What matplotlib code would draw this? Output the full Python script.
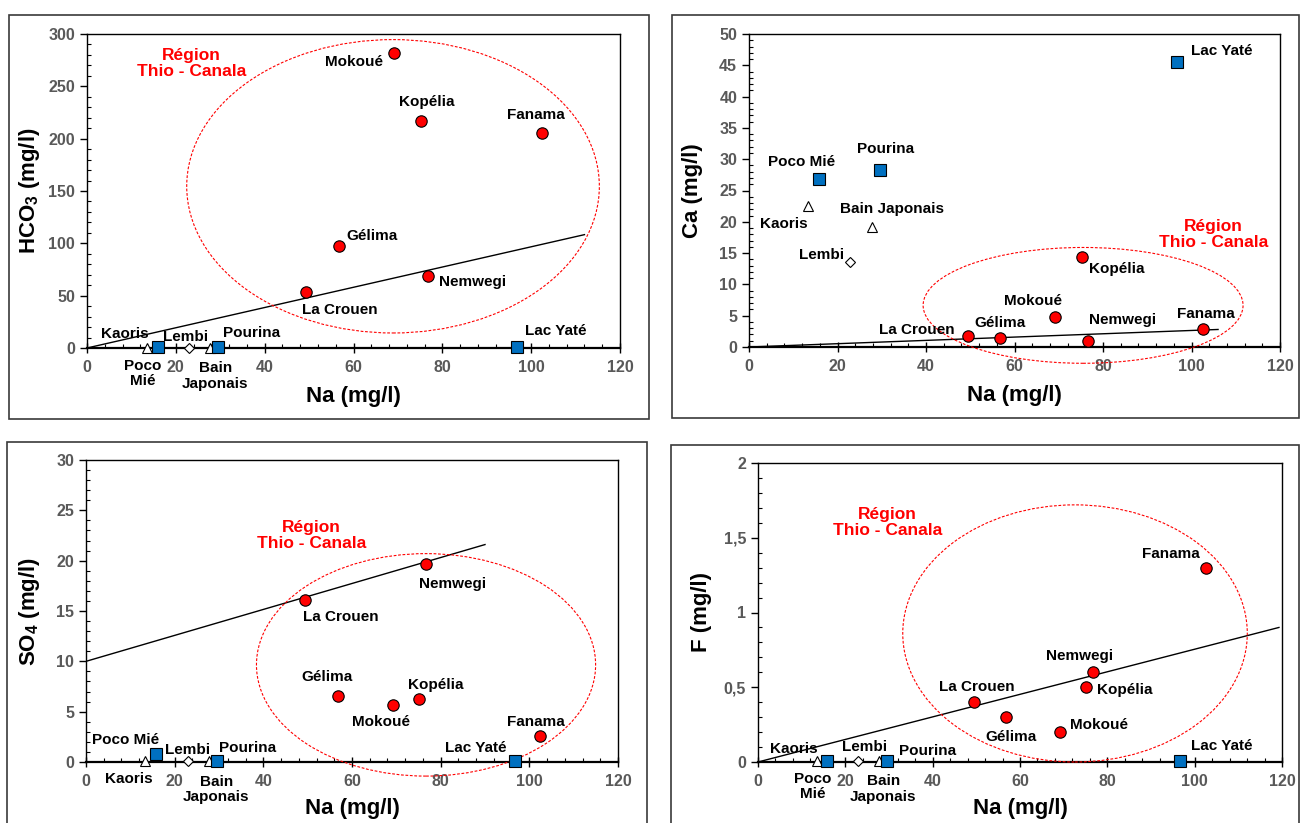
import matplotlib
matplotlib.use("Agg")
import matplotlib.pyplot as plt
from matplotlib.patches import Ellipse, Rectangle
from matplotlib.ticker import MultipleLocator, FuncFormatter

plt.rcParams['font.family'] = ['Liberation Sans', 'DejaVu Sans']
plt.rcParams['font.weight'] = 'bold'
plt.rcParams['mathtext.fontset'] = 'custom'
plt.rcParams['mathtext.rm'] = 'Liberation Sans:bold'
plt.rcParams['mathtext.bf'] = 'Liberation Sans:bold'


# DATA

sites = ["Kaoris", "Poco Mié", "Lembi", "Bain Japonais", "Pourina", "Lac Yaté",
         "La Crouen", "Gélima", "Mokoué", "Kopélia", "Nemwegi", "Fanama"]
groups = ["tri", "sq", "dia", "tri", "sq", "sq",
          "thio", "thio", "thio", "thio", "thio", "thio"]

na = [13.4, 15.9, 22.9, 27.8, 29.6, 96.7, 49.4, 56.8, 69.2, 75.2, 76.7, 102.5]
hco3 = [0.3, 0.5, 0.3, 0.3, 0.5, 0.5, 53.2, 97.1, 281.8, 216.9, 69.1, 205.4]
ca = [22.6, 26.8, 13.5, 19.2, 28.3, 45.5, 1.8, 1.5, 4.8, 14.3, 1.0, 2.9]
so4 = [0.05, 0.8, 0.05, 0.05, 0.1, 0.05, 16.1, 6.6, 5.7, 6.3, 19.7, 2.55]
fl = [0.005, 0.01, 0.005, 0.005, 0.01, 0.01, 0.40, 0.30, 0.20, 0.50, 0.60, 1.30]

# trend lines (end points)
hco3_line_x = [0, 112]
hco3_line_y = [0, 108.3]
ca_line_x = [0, 106]
ca_line_y = [0, 2.8]
so4_line_x = [0, 90]
so4_line_y = [10.0, 21.6]
f_line_x = [0, 119.3]
f_line_y = [0, 0.90]


# STYLE / LAYOUT

marker_style = {
    "tri": dict(marker='^', ms=7.4, mfc='white', mec='black', mew=0.8),
    "sq": dict(marker='s', ms=8.4, mfc='#0070C0', mec='black', mew=0.8),
    "dia": dict(marker='D', ms=5.2, mfc='white', mec='black', mew=0.8),
    "thio": dict(marker='o', ms=8.2, mfc='#FF0000', mec='black', mew=0.8),
}

# label offsets in pixels (dx, dy) per panel
offsets_hco3 = {
    "Kaoris": (-22, 14), "Poco Mié": (-15, -26), "Lembi": (-3, 11),
    "Bain Japonais": (5, -28), "Pourina": (33, 14), "Lac Yaté": (39, 16),
    "La Crouen": (33, -18), "Gélima": (33, 10), "Mokoué": (-40, -9),
    "Kopélia": (6, 19), "Nemwegi": (45, -6), "Fanama": (-6, 18),
}
offsets_ca = {
    "Kaoris": (-24, -18), "Poco Mié": (-18, 17), "Lembi": (-29, 7),
    "Bain Japonais": (20, 18), "Pourina": (6, 21), "Lac Yaté": (45, 11),
    "La Crouen": (-51, 6), "Gélima": (0, 15), "Mokoué": (-22, 16),
    "Kopélia": (35, -12), "Nemwegi": (34, 21), "Fanama": (3, 15),
}
offsets_so4 = {
    "Kaoris": (-17, -18), "Poco Mié": (-31, 14), "Lembi": (0, 11),
    "Bain Japonais": (7, -28), "Pourina": (30, 13), "Lac Yaté": (-39, 13),
    "La Crouen": (36, -17), "Gélima": (-11, 19), "Mokoué": (-12, -17),
    "Kopélia": (16, 14), "Nemwegi": (27, -20), "Fanama": (-5, 14),
}
offsets_f = {
    "Kaoris": (-23, 12), "Poco Mié": (-15, -26), "Lembi": (7, 14),
    "Bain Japonais": (4, -28), "Pourina": (40, 10), "Lac Yaté": (41, 15),
    "La Crouen": (3, 15), "Gélima": (5, -20), "Mokoué": (39, 7),
    "Kopélia": (38, -3), "Nemwegi": (-13, 16), "Fanama": (-35, 14),
}

two_lines = {"Poco Mié": "Poco\nMié", "Bain Japonais": "Bain\nJaponais"}

panels = [
    dict(y=hco3, ylabel=r"HCO$_{\mathbf{3}}$ (mg/l)", ymax=300, major=50, minor=10,
         line=(hco3_line_x, hco3_line_y), offs=offsets_hco3,
         split=["Poco Mié", "Bain Japonais"],
         ell=(68.9, 154.5, 92.9, 280.3), reg=(23.5, 272),
         pos=[87, 34, 620, 348], frame=[9, 15, 649, 419]),
    dict(y=ca, ylabel="Ca (mg/l)", ymax=50, major=5, minor=1,
         line=(ca_line_x, ca_line_y), offs=offsets_ca, split=[],
         ell=(75.5, 6.65, 72.3, 18.5), reg=(105, 18),
         pos=[749, 34, 1280, 347], frame=[672, 15, 1299, 418]),
    dict(y=so4, ylabel=r"SO$_{\mathbf{4}}$ (mg/l)", ymax=30, major=5, minor=1,
         line=(so4_line_x, so4_line_y), offs=offsets_so4,
         split=["Bain Japonais"],
         ell=(76.7, 9.65, 76.5, 22.1), reg=(50.8, 22.5),
         pos=[86, 460, 618, 762], frame=[7, 442, 647, 830]),
    dict(y=fl, ylabel="F (mg/l)", ymax=2, major=0.5, minor=0.1,
         line=(f_line_x, f_line_y), offs=offsets_f,
         split=["Poco Mié", "Bain Japonais"],
         ell=(72.6, 0.86, 78.9, 1.72), reg=(29.6, 1.6),
         pos=[758, 463, 1282, 762], frame=[671, 445, 1299, 830]),
]

W, H = 1300, 823
fig = plt.figure(figsize=(W / 100, H / 100), dpi=100)

for p in panels:
    # panel frame
    fx0, fy0, fx1, fy1 = p["frame"]
    fig.patches.append(Rectangle((fx0 / W, 1 - fy1 / H), (fx1 - fx0) / W, (fy1 - fy0) / H,
                                 transform=fig.transFigure, fill=False,
                                 edgecolor='#3a3a3a', lw=1.2))
    x0, y0, x1, y1 = p["pos"]
    ax = fig.add_axes([x0 / W, 1 - y1 / H, (x1 - x0) / W, (y1 - y0) / H])

    ax.plot(p["line"][0], p["line"][1], color='black', lw=1.0, zorder=2)

    for i, name in enumerate(sites):
        ax.plot(na[i], p["y"][i], linestyle='none', zorder=4, clip_on=False,
                **marker_style[groups[i]])
        txt = two_lines[name] if name in p["split"] else name
        dx, dy = p["offs"][name]
        ax.annotate(txt, (na[i], p["y"][i]), xytext=(dx, dy), textcoords='offset pixels',
                    ha='center', va='center', fontsize=11, fontweight='bold',
                    linespacing=1.15, annotation_clip=False, zorder=5)

    cx, cy, ew, eh = p["ell"]
    ax.add_patch(Ellipse((cx, cy), ew, eh, fill=False, edgecolor='red', lw=0.8,
                         linestyle=(0, (2.5, 1.5)), clip_on=False, zorder=3))
    ax.text(p["reg"][0], p["reg"][1], "Région\nThio - Canala", color='red',
            fontsize=12.5, fontweight='bold', ha='center', va='center', linespacing=1.1)

    ax.set_xlim(0, 120)
    ax.set_ylim(0, p["ymax"])
    ax.xaxis.set_major_locator(MultipleLocator(20))
    ax.xaxis.set_minor_locator(MultipleLocator(4))
    ax.yaxis.set_major_locator(MultipleLocator(p["major"]))
    ax.yaxis.set_minor_locator(MultipleLocator(p["minor"]))
    if p["ymax"] == 2:
        ax.yaxis.set_major_formatter(FuncFormatter(lambda v, pos: ('%g' % v).replace('.', ',')))

    ax.tick_params(which='major', direction='out', length=5, width=1.0,
                   labelsize=11.5, labelcolor='#595959', color='black')
    ax.tick_params(which='minor', direction='in', length=3, width=0.8, color='black')
    ax.tick_params(axis='x', which='major', direction='inout', length=7, pad=5)
    for lab in ax.get_xticklabels() + ax.get_yticklabels():
        lab.set_fontweight('bold')

    for s in ['top', 'right', 'left']:
        ax.spines[s].set_linewidth(1.0)
    ax.spines['bottom'].set_linewidth(1.6)

    ax.set_xlabel("Na (mg/l)", fontsize=16, fontweight='bold', va='center')
    ax.xaxis.set_label_coords(0.5, -0.155)
    ax.set_ylabel(p["ylabel"], fontsize=16, fontweight='bold', va='center')
    ax.yaxis.set_label_coords(-0.107, 0.5)

fig.savefig("out.png", dpi=100)
